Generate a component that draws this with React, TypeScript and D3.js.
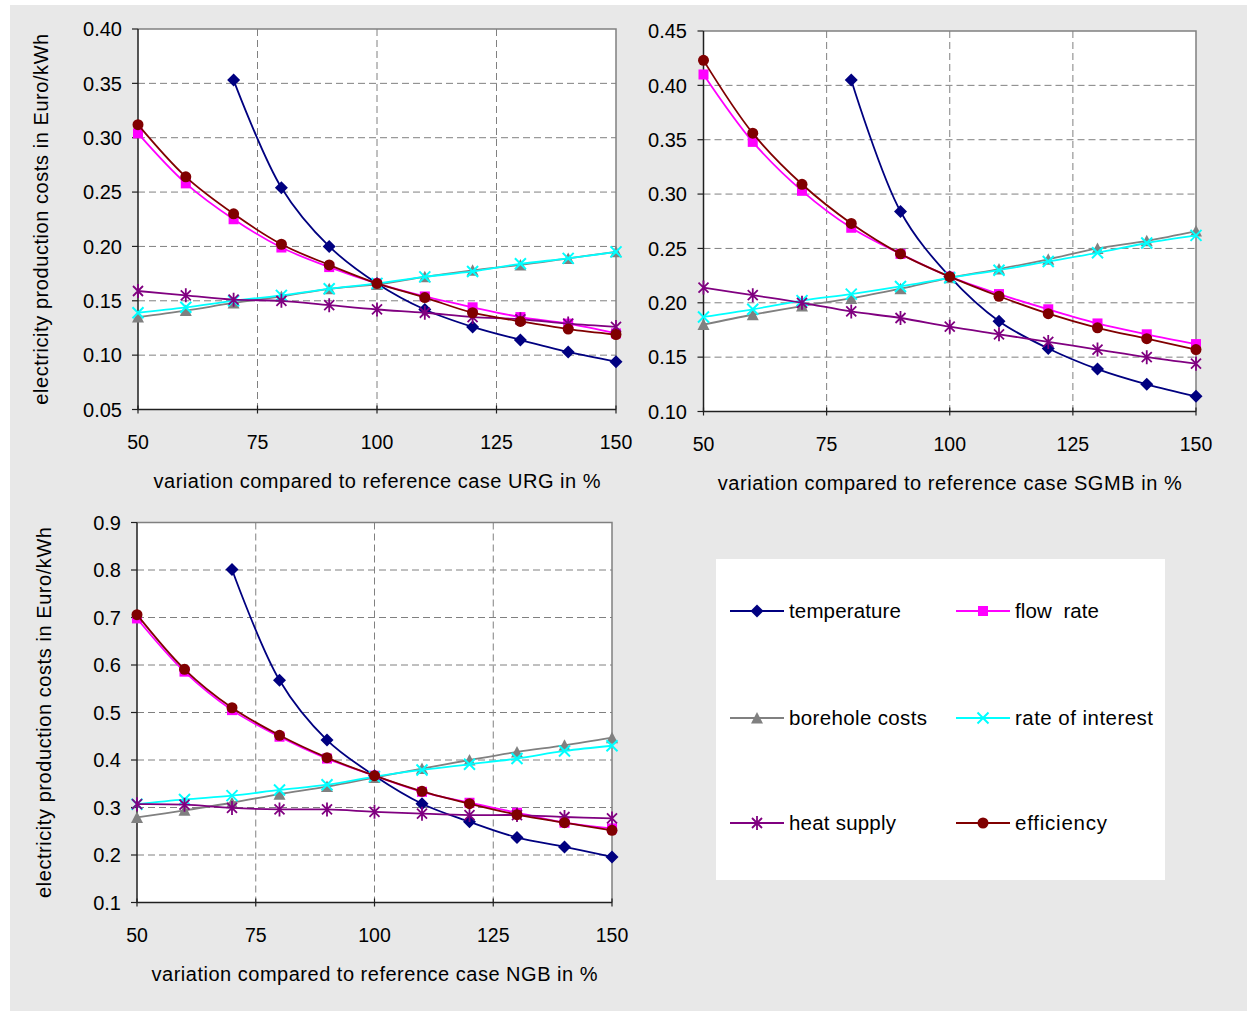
import React from 'react';
import * as d3 from 'd3';

const X_VALUES = [50, 60, 70, 80, 90, 100, 110, 120, 130, 140, 150];
const X_TICKS = [50, 75, 100, 125, 150];

// URG case
const URG_TEMPERATURE = [null, null, 0.353, 0.254, 0.2, 0.166, 0.142, 0.126, 0.114, 0.103, 0.094];
const URG_FLOW = [0.304, 0.258, 0.225, 0.199, 0.181, 0.166, 0.154, 0.144, 0.135, 0.129, 0.12];
const URG_BOREHOLE = [0.135, 0.141, 0.148, 0.154, 0.161, 0.165, 0.172, 0.178, 0.183, 0.189, 0.195];
const URG_INTEREST = [0.139, 0.144, 0.15, 0.155, 0.161, 0.166, 0.172, 0.177, 0.184, 0.189, 0.195];
const URG_HEAT = [0.159, 0.155, 0.151, 0.15, 0.146, 0.142, 0.139, 0.135, 0.133, 0.129, 0.126];
const URG_EFFICIENCY = [0.312, 0.264, 0.23, 0.202, 0.183, 0.166, 0.153, 0.139, 0.131, 0.124, 0.119];

// SGMB case
const SGMB_TEMPERATURE = [null, null, null, 0.405, 0.284, 0.224, 0.183, 0.158, 0.139, 0.125, 0.114];
const SGMB_FLOW = [0.41, 0.348, 0.303, 0.269, 0.245, 0.224, 0.208, 0.194, 0.181, 0.171, 0.162];
const SGMB_BOREHOLE = [0.18, 0.189, 0.197, 0.204, 0.213, 0.223, 0.231, 0.24, 0.25, 0.257, 0.266];
const SGMB_INTEREST = [0.187, 0.194, 0.202, 0.208, 0.215, 0.223, 0.23, 0.238, 0.246, 0.255, 0.262];
const SGMB_HEAT = [0.214, 0.207, 0.2, 0.192, 0.186, 0.178, 0.171, 0.164, 0.157, 0.15, 0.144];
const SGMB_EFFICIENCY = [0.423, 0.356, 0.309, 0.273, 0.245, 0.224, 0.206, 0.19, 0.177, 0.167, 0.157];

// NGB case
const NGB_TEMPERATURE = [null, null, 0.801, 0.568, 0.442, 0.367, 0.308, 0.27, 0.237, 0.217, 0.196];
const NGB_FLOW = [0.698, 0.586, 0.505, 0.449, 0.403, 0.367, 0.333, 0.31, 0.289, 0.268, 0.256];
const NGB_BOREHOLE = [0.279, 0.294, 0.31, 0.328, 0.344, 0.363, 0.382, 0.4, 0.417, 0.431, 0.447];
const NGB_INTEREST = [0.307, 0.317, 0.325, 0.337, 0.348, 0.365, 0.379, 0.391, 0.403, 0.419, 0.43];
const NGB_HEAT = [0.307, 0.306, 0.299, 0.296, 0.296, 0.291, 0.287, 0.284, 0.284, 0.28, 0.277];
const NGB_EFFICIENCY = [0.706, 0.591, 0.51, 0.452, 0.405, 0.367, 0.334, 0.308, 0.285, 0.268, 0.252];

const SERIES_NAMES = ['temperature', 'flow  rate', 'borehole costs', 'rate of interest', 'heat supply', 'efficiency'];
const SERIES_COLORS = ['#000080', '#ff00ff', '#808080', '#00ffff', '#800080', '#800000'];
const SERIES_MARKERS = ['diamond', 'square', 'triangle', 'cross', 'star', 'circle'];

const Y_TITLE = 'electricity production costs in Euro/kWh';
const FONT = '"Liberation Sans", Arial, sans-serif';

type Panel = {
  series: (number | null)[][];
  yDomain: [number, number];
  yStep: number;
  yFmt: string;
  box: { l: number; r: number; t: number; b: number };
  xTitle: string;
  xTitleW: number;
  yLabelRight: number;
  yTitleX: number | null;
};

const PANELS: Panel[] = [
  {
    series: [URG_TEMPERATURE, URG_FLOW, URG_BOREHOLE, URG_INTEREST, URG_HEAT, URG_EFFICIENCY],
    yDomain: [0.05, 0.4], yStep: 0.05, yFmt: '.2f',
    box: { l: 138, r: 616, t: 29, b: 409.5 },
    xTitle: 'variation compared to reference case URG in %', xTitleW: 447,
    yLabelRight: 122, yTitleX: 41,
  },
  {
    series: [SGMB_TEMPERATURE, SGMB_FLOW, SGMB_BOREHOLE, SGMB_INTEREST, SGMB_HEAT, SGMB_EFFICIENCY],
    yDomain: [0.1, 0.45], yStep: 0.05, yFmt: '.2f',
    box: { l: 703.5, r: 1196, t: 31, b: 411.5 },
    xTitle: 'variation compared to reference case SGMB in %', xTitleW: 464,
    yLabelRight: 687, yTitleX: null,
  },
  {
    series: [NGB_TEMPERATURE, NGB_FLOW, NGB_BOREHOLE, NGB_INTEREST, NGB_HEAT, NGB_EFFICIENCY],
    yDomain: [0.1, 0.9], yStep: 0.1, yFmt: '.1f',
    box: { l: 137, r: 612, t: 522.5, b: 902.5 },
    xTitle: 'variation compared to reference case NGB in %', xTitleW: 446,
    yLabelRight: 121, yTitleX: 44,
  },
];

function Marker({ kind, x, y, color }: { kind: string; x: number; y: number; color: string }) {
  const t = `translate(${x},${y})`;
  if (kind === 'diamond') return <path transform={t} d="M0,-6.5L6.5,0L0,6.5L-6.5,0Z" fill={color} />;
  if (kind === 'square') return <rect x={x - 5} y={y - 5} width={10} height={10} fill={color} />;
  if (kind === 'triangle') return <path transform={t} d="M0,-6L6,5.5L-6,5.5Z" fill={color} />;
  if (kind === 'circle') return <circle cx={x} cy={y} r={5.5} fill={color} />;
  if (kind === 'cross')
    return <path transform={t} d="M-5.5,-5.5L5.5,5.5M-5.5,5.5L5.5,-5.5" stroke={color} strokeWidth={2} fill="none" />;
  // star: x plus vertical bar
  return <path transform={t} d="M-5,-5L5,5M-5,5L5,-5M0,-7L0,7" stroke={color} strokeWidth={1.8} fill="none" />;
}

function ChartPanel({ p }: { p: Panel }) {
  const { l, r, t, b } = p.box;
  const x = d3.scaleLinear().domain([50, 150]).range([l, r]);
  const y = d3.scaleLinear().domain(p.yDomain).range([b, t]);
  const yTicks = d3.range(p.yDomain[0], p.yDomain[1] + p.yStep / 2, p.yStep);
  const fmt = d3.format(p.yFmt);
  const line = d3
    .line<number | null>()
    .defined(d => d != null)
    .x((_, i) => x(X_VALUES[i]))
    .y(d => y(d as number))
    .curve(d3.curveCatmullRom.alpha(0.5));

  return (
    <g fontFamily={FONT}>
      <rect x={l} y={t} width={r - l} height={b - t} fill="#fff" />
      {yTicks.slice(1, -1).map(v => (
        <line key={'gy' + v} x1={l} x2={r} y1={y(v)} y2={y(v)} stroke="#808080" strokeDasharray="7,4" />
      ))}
      {X_TICKS.slice(1, -1).map(v => (
        <line key={'gx' + v} x1={x(v)} x2={x(v)} y1={t} y2={b} stroke="#808080" strokeDasharray="7,4" />
      ))}
      <path d={`M${l},${t}H${r}V${b}`} fill="none" stroke="#808080" strokeWidth={1.5} />
      <path d={`M${l},${t}V${b}H${r}`} fill="none" stroke="#202020" strokeWidth={1.5} />
      {yTicks.map(v => (
        <g key={'ty' + v}>
          <line x1={l - 6} x2={l} y1={y(v)} y2={y(v)} stroke="#202020" strokeWidth={1.2} />
          <text x={p.yLabelRight} y={y(v)} dy="0.36em" textAnchor="end" fontSize={20} fill="#000">{fmt(v)}</text>
        </g>
      ))}
      {X_TICKS.map(v => (
        <g key={'tx' + v}>
          <line x1={x(v)} x2={x(v)} y1={b - 4} y2={b + 4} stroke="#202020" strokeWidth={1.2} />
          <text x={x(v)} y={b + 39} textAnchor="middle" fontSize={19.5} fill="#000">{v}</text>
        </g>
      ))}
      <text x={(l + r) / 2} y={b + 78} textAnchor="middle" fontSize={20} fill="#000"
        textLength={p.xTitleW} lengthAdjust="spacing">{p.xTitle}</text>
      {p.yTitleX != null && (
        <text transform={`translate(${p.yTitleX},${(t + b) / 2}) rotate(-90)`} textAnchor="middle"
          dy="0.36em" fontSize={20} fill="#000" textLength={371} lengthAdjust="spacing">{Y_TITLE}</text>
      )}
      {p.series.map((s, si) => (
        <g key={'s' + si}>
          <path d={line(s) || ''} fill="none" stroke={SERIES_COLORS[si]} strokeWidth={1.8} />
          {s.map((v, i) =>
            v == null ? null : (
              <Marker key={i} kind={SERIES_MARKERS[si]} x={x(X_VALUES[i])} y={y(v)} color={SERIES_COLORS[si]} />
            )
          )}
        </g>
      ))}
    </g>
  );
}

const LEGEND_ROWS = [611, 718, 823];
const LEGEND_COLS = [730, 956];
const LEGEND_TEXT_W = [112, 84, 138, 138, 107, 92];

function Legend() {
  return (
    <g fontFamily={FONT}>
      <rect x={716} y={559} width={449} height={321} fill="#fff" />
      {SERIES_NAMES.map((name, i) => {
        const cx = LEGEND_COLS[i % 2];
        const cy = LEGEND_ROWS[Math.floor(i / 2)];
        return (
          <g key={name}>
            <line x1={cx} x2={cx + 54} y1={cy} y2={cy} stroke={SERIES_COLORS[i]} strokeWidth={1.8} />
            <Marker kind={SERIES_MARKERS[i]} x={cx + 27} y={cy} color={SERIES_COLORS[i]} />
            <text x={cx + 59} y={cy + 7} fontSize={20.5} fill="#000" style={{ whiteSpace: 'pre' }}
              textLength={LEGEND_TEXT_W[i]} lengthAdjust="spacing">{name}</text>
          </g>
        );
      })}
    </g>
  );
}

export default function App() {
  return (
    <svg width={1247} height={1011} style={{ position: 'absolute', left: 0, top: 0, background: '#fff' }}>
      <rect x={10} y={5} width={1237} height={1006} fill="#e8e8e8" />
      {PANELS.map((p, i) => (
        <ChartPanel key={i} p={p} />
      ))}
      <Legend />
    </svg>
  );
}
